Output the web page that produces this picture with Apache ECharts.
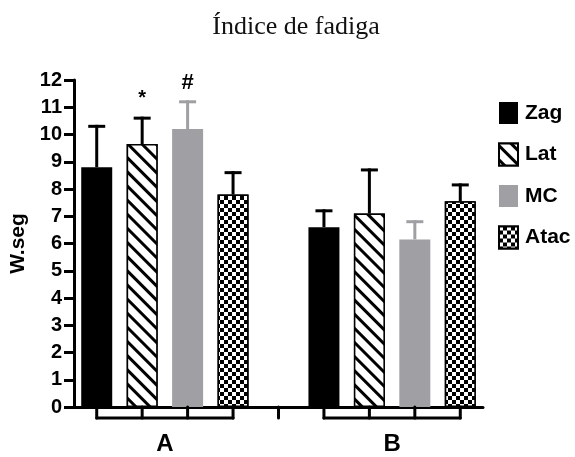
<!DOCTYPE html>
<html>
<head>
<meta charset="utf-8">
<script src="https://cdn.jsdelivr.net/npm/echarts@6/dist/echarts.min.js"></script>
<style>
  html, body { margin: 0; padding: 0; background: #fff; }
  #chart { width: 575px; height: 457px; }
</style>
</head>
<body>
<div id="chart"></div>
<script>
// Groups and conditions
const groups = ['A', 'B'];
const seriesNames = ['Zag', 'Lat', 'MC', 'Atac'];

// Mean values (W.seg) per group
const zagMean = [8.8, 6.6];
const latMean = [9.65, 7.1];
const mcMean = [10.2, 6.15];
const atacMean = [7.8, 7.55];

// Upper error (deviation) per group
const zagErr = [1.5, 0.6];
const latErr = [0.95, 1.6];
const mcErr = [1.0, 0.65];
const atacErr = [0.8, 0.6];

// Significance marks above the error bars
const zagMark = ['', ''];
const latMark = ['*', ''];
const mcMark = ['#', ''];
const atacMark = ['', ''];

// Y axis range
const yMin = 0;
const yMax = 12;
const yStep = 1;

const FONT = "'Liberation Sans', Arial, sans-serif";
const means = [zagMean, latMean, mcMean, atacMean];
const errs = [zagErr, latErr, mcErr, atacErr];
const marks = [zagMark, latMark, mcMark, atacMark];

// Each group takes one slot per condition plus an empty spacer slot
const SLOTS = seriesNames.length + 1;
const slotOf = (gi, si) => gi * SLOTS + si;
const slotCount = groups.length * SLOTS - 1;
const slotNames = [];
for (let i = 0; i < slotCount; i++) {
  const gi = Math.floor(i / SLOTS), si = i % SLOTS;
  slotNames.push(si < seriesNames.length ? groups[gi] + '-' + seriesNames[si] : '');
}

const barColors = ['#000000', '#ffffff', '#a0a0a4', '#ffffff'];
const errColors = ['#000000', '#000000', '#a0a0a4', '#000000'];
const decals = [
  null,
  { symbol: 'rect', symbolSize: 1, color: '#000', backgroundColor: '#fff',
    dashArrayX: [1, 0], dashArrayY: [2.6, 6.8], rotation: Math.PI / 4 },
  null,
  { symbol: 'rect', symbolSize: 1, color: '#000', backgroundColor: '#fff',
    dashArrayX: [[4, 4], [0, 4, 4, 0]], dashArrayY: [4, 0], rotation: 0 }
];

const barSeries = seriesNames.map((name, si) => {
  const data = slotNames.map(() => '-');
  groups.forEach((g, gi) => { data[slotOf(gi, si)] = means[si][gi]; });
  return {
    type: 'bar',
    name: name,
    barWidth: 31,
    barGap: '-100%',
    z: 2,
    itemStyle: Object.assign({
      color: barColors[si],
      borderColor: si === 1 || si === 3 ? '#000' : barColors[si],
      borderWidth: si === 1 || si === 3 ? 1.5 : 0
    }, decals[si] ? { decal: decals[si] } : {}),
    data: data
  };
});

// Error bar items: [slot, mean, err, seriesIndex]
const errItems = [];
const errMarks = [];
seriesNames.forEach((name, si) => {
  groups.forEach((g, gi) => {
    errItems.push([slotOf(gi, si), means[si][gi], errs[si][gi], si]);
    errMarks.push(marks[si][gi]);
  });
});

const errorSeries = {
  type: 'custom',
  name: 'err',
  z: 5,
  data: errItems,
  encode: { x: 0, y: 1 },
  renderItem: function (params, api) {
    const x = api.value(0), m = api.value(1), e = api.value(2), si = api.value(3);
    const base = api.coord([x, m]);
    const top = api.coord([x, m + e]);
    const c = errColors[si];
    const half = 8.5;
    const children = [
      { type: 'line', shape: { x1: base[0], y1: base[1], x2: top[0], y2: top[1] - 1.5 },
        style: { stroke: c, lineWidth: 3 } },
      { type: 'line', shape: { x1: top[0] - half, y1: top[1], x2: top[0] + half, y2: top[1] },
        style: { stroke: c, lineWidth: 3 } }
    ];
    const mk = errMarks[params.dataIndex];
    if (mk) {
      const star = mk === '*';
      children.push({
        type: 'text',
        style: {
          text: mk, x: top[0], y: top[1] - (star ? 20 : 19),
          align: 'center', verticalAlign: 'middle',
          font: 'bold ' + (star ? 20 : 22) + 'px ' + FONT, fill: '#000'
        }
      });
    }
    return { type: 'group', children: children };
  }
};

// Group brackets under the axis, divider tick between groups, and group names
const bracketSeries = {
  type: 'custom',
  name: 'groups',
  z: 4,
  clip: false,
  silent: true,
  data: groups.map((g, gi) => [gi]),
  renderItem: function (params, api) {
    const gi = api.value(0);
    const depth = 11;
    const pts = seriesNames.map((n, si) => api.coord([slotOf(gi, si), yMin]));
    const y0 = pts[0][1];
    const yb = y0 + depth;
    const st = { stroke: '#000', lineWidth: 3, lineCap: 'round' };
    const children = [];
    children.push({ type: 'line', shape: { x1: pts[0][0], y1: yb, x2: pts[pts.length - 1][0], y2: yb }, style: st });
    pts.forEach(p => {
      children.push({ type: 'line', shape: { x1: p[0], y1: y0, x2: p[0], y2: yb }, style: st });
    });
    if (gi < groups.length - 1) {
      const d = api.coord([slotOf(gi, seriesNames.length), yMin]);
      children.push({ type: 'line', shape: { x1: d[0], y1: y0, x2: d[0], y2: yb }, style: st });
    }
    const cx = (pts[0][0] + pts[pts.length - 1][0]) / 2;
    children.push({
      type: 'text',
      style: { text: groups[gi], x: cx, y: y0 + 37, align: 'center', verticalAlign: 'middle',
        font: 'bold 24px ' + FONT, fill: '#000' }
    });
    return { type: 'group', children: children };
  }
};

const chart = echarts.init(document.getElementById('chart'), null, { renderer: 'canvas' });
chart.setOption({
  animation: false,
  backgroundColor: '#fff',
  title: {
    text: 'Índice de fadiga',
    left: 291,
    textAlign: 'center',
    top: 9,
    textStyle: { fontFamily: "'Liberation Serif', serif", fontSize: 26, fontWeight: 'normal', color: '#111' }
  },
  legend: {
    data: seriesNames,
    orient: 'vertical',
    left: 493,
    top: 97,
    itemWidth: 19,
    itemHeight: 22,
    itemGap: 18.5,
    icon: 'rect',
    textStyle: { fontFamily: FONT, fontSize: 21, fontWeight: 'bold', color: '#000', padding: [0, 0, 0, 2] }
  },
  grid: { left: 74, right: 92, top: 80, bottom: 50, containLabel: false, outerBoundsMode: 'none' },
  xAxis: {
    type: 'category',
    data: slotNames,
    boundaryGap: true,
    axisLine: { show: true, onZero: false, lineStyle: { color: '#000', width: 3 } },
    axisTick: { show: false },
    axisLabel: { show: false },
    splitLine: { show: false }
  },
  yAxis: {
    type: 'value',
    min: yMin,
    max: yMax,
    interval: yStep,
    name: 'W.seg',
    nameLocation: 'middle',
    nameGap: 43,
    nameTextStyle: { fontFamily: FONT, fontSize: 21, fontWeight: 'bold', color: '#000' },
    axisLine: { show: true, lineStyle: { color: '#000', width: 3 } },
    axisTick: { show: true, length: 10, lineStyle: { color: '#000', width: 3 } },
    axisLabel: { fontFamily: FONT, fontSize: 20, fontWeight: 'bold', color: '#000', margin: 12 },
    splitLine: { show: false }
  },
  series: barSeries.concat([errorSeries, bracketSeries])
});
</script>
</body>
</html>
